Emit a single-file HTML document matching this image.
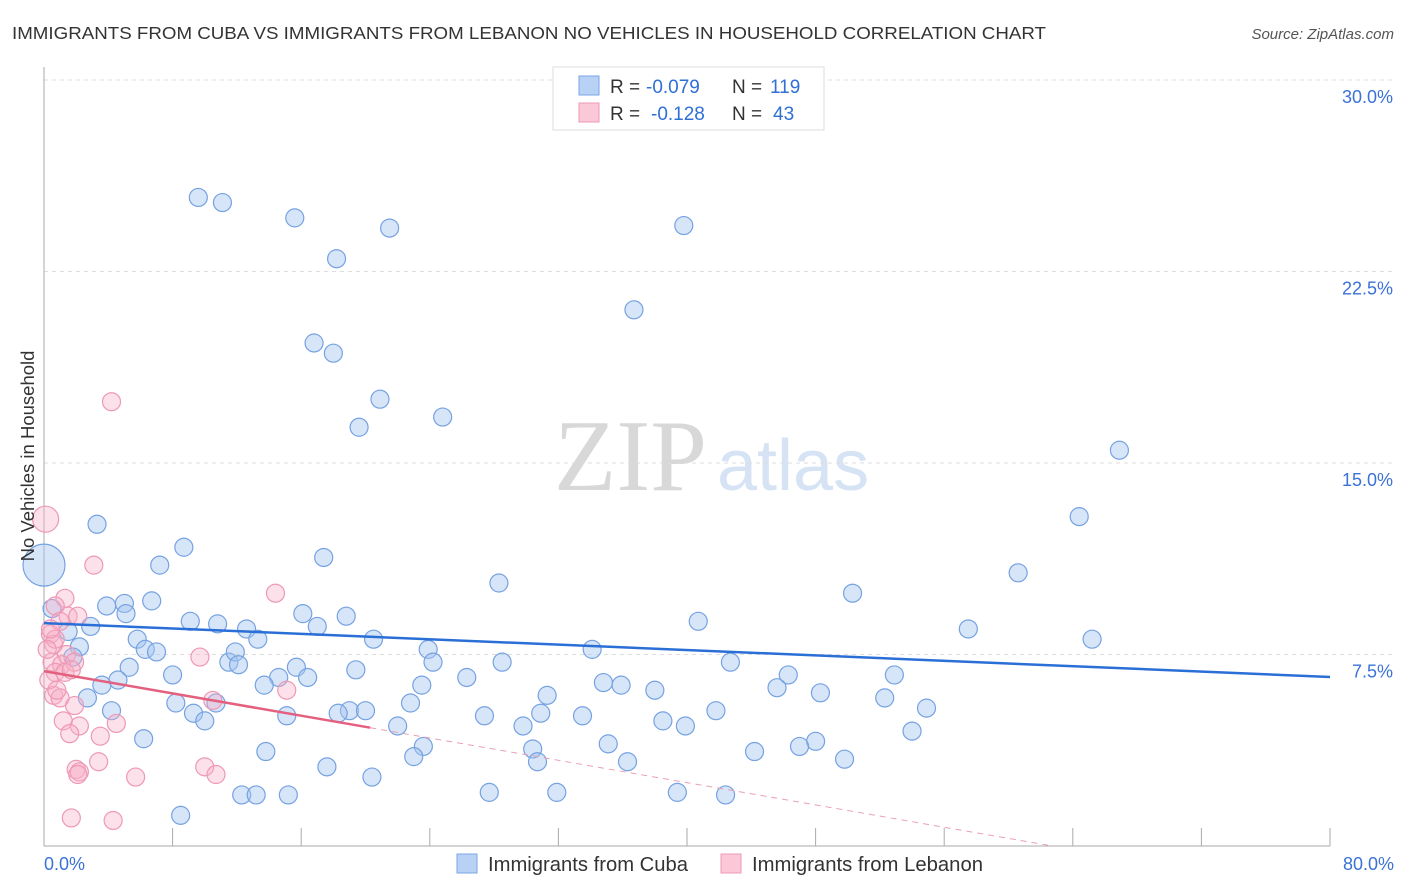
<!DOCTYPE html>
<html><head><meta charset="utf-8"><style>
body{margin:0;background:#fff;font-family:"Liberation Sans",sans-serif;}
#wrap{position:relative;width:1406px;height:892px;overflow:hidden;}
</style></head><body>
<div id="wrap">
<svg id="chart" width="1406" height="892" xmlns="http://www.w3.org/2000/svg">
<text x="12" y="39" font-size="17.5" fill="#333" textLength="1034" lengthAdjust="spacingAndGlyphs">IMMIGRANTS FROM CUBA VS IMMIGRANTS FROM LEBANON NO VEHICLES IN HOUSEHOLD CORRELATION CHART</text>
<text x="1394" y="39" font-size="15" fill="#555" font-style="italic" text-anchor="end">Source: ZipAtlas.com</text>
<text x="554" y="490" font-size="102" fill="#d8d8d8" font-family="Liberation Serif,serif">ZIP</text>
<text x="717" y="490" font-size="72" fill="#d6e3f5">atlas</text>
<g id="grid"></g>
<g id="axes"></g>
<g id="blue"></g>
<g id="pink"></g>
<g id="trend"></g>
<text transform="translate(34,456) rotate(-90)" font-size="18.5" fill="#333" text-anchor="middle">No Vehicles in Household</text>
<g>
<rect x="553" y="67" width="271" height="63" fill="#fff" stroke="#ddd"/>
<rect x="579" y="76" width="20" height="19" fill="#b8d2f5" stroke="#7aa6e6"/>
<rect x="579" y="103" width="20" height="19" fill="#fbc8d8" stroke="#ee9ab5"/>
<text x="610" y="93" font-size="19" fill="#333">R = <tspan fill="#2f6fd6" x="646">-0.079</tspan><tspan x="732">N = </tspan><tspan fill="#2f6fd6" x="770">119</tspan></text>
<text x="610" y="120" font-size="19" fill="#333">R = <tspan fill="#2f6fd6" x="651">-0.128</tspan><tspan x="732">N = </tspan><tspan fill="#2f6fd6" x="773">43</tspan></text>
</g>
<g>
<rect x="457" y="854" width="20" height="19" fill="#b8d2f5" stroke="#7aa6e6"/>
<text x="488" y="871" font-size="20" fill="#333" textLength="200" lengthAdjust="spacingAndGlyphs">Immigrants from Cuba</text>
<rect x="721" y="854" width="20" height="19" fill="#fbc8d8" stroke="#ee9ab5"/>
<text x="752" y="871" font-size="20" fill="#333" textLength="231" lengthAdjust="spacingAndGlyphs">Immigrants from Lebanon</text>
</g>
</svg>
</div>
<script>
const yTicks=[7.5,15.0,22.5,30.0];
const yTickLabels=["7.5%","15.0%","22.5%","30.0%"];
const xEndLabels=["0.0%","80.0%"];
const cubaX=[9.6,11.1,15.6,21.5,18.2,39.8,36.7,16.8,18.0,20.9,24.8,19.6,66.9,64.4,3.3,8.7,17.4,7.2,60.6,28.3,50.3,0.5,3.9,5.0,6.7,5.1,9.1,10.8,16.1,18.8,17.0,12.6,13.3,2.9,1.5,2.2,5.8,6.3,7.0,40.7,57.5,65.2,20.5,23.9,34.1,42.7,1.8,5.3,11.5,11.9,12.1,15.7,19.4,24.2,28.5,46.3,52.9,4.6,8.0,14.6,16.4,26.3,34.8,35.9,23.5,13.7,38.0,45.6,3.6,2.7,31.3,48.3,8.2,10.7,52.3,22.8,19.0,18.3,20.0,30.9,41.8,54.9,9.3,4.2,10.0,15.1,27.4,33.5,38.5,22.0,29.8,39.9,54.0,6.2,13.8,23.6,35.1,44.2,30.4,48.0,47.0,23.0,49.8,30.7,36.3,17.6,20.4,27.7,31.9,39.4,42.4,12.3,13.2,15.2,8.5,0.0];
const cubaY=[25.4,25.2,24.6,24.2,23.0,24.3,21.0,19.7,19.3,17.5,16.8,16.4,15.5,12.9,12.6,11.7,11.3,11.0,10.7,10.3,9.9,9.3,9.4,9.5,9.6,9.1,8.8,8.7,9.1,9.0,8.6,8.5,8.1,8.6,8.4,7.8,8.1,7.7,7.6,8.8,8.5,8.1,8.1,7.7,7.7,7.2,7.4,7.0,7.2,7.6,7.1,7.0,6.9,7.2,7.2,6.7,6.7,6.5,6.7,6.6,6.6,6.6,6.4,6.3,6.3,6.3,6.1,6.2,6.3,5.8,5.9,6.0,5.6,5.6,5.8,5.6,5.3,5.2,5.3,5.2,5.3,5.4,5.2,5.3,4.9,5.1,5.1,5.1,4.9,4.7,4.7,4.7,4.5,4.2,3.7,3.9,4.0,3.7,3.8,4.1,3.9,3.5,3.4,3.3,3.3,3.1,2.7,2.1,2.1,2.1,2.0,2.0,2.0,2.0,1.2,11.0];
const cubaSize=[];cubaX.forEach((v,i)=>cubaSize.push(i===cubaX.length-1?21:9));
const lebX=[4.2,0.1,3.1,14.4,1.3,0.7,1.5,0.4,1.0,2.1,0.6,1.4,0.5,1.1,1.9,9.7,0.7,1.3,1.7,0.6,1.0,15.1,10.5,1.9,1.2,2.2,1.6,3.5,4.5,3.4,2.0,2.2,2.1,5.7,10.0,10.7,1.7,4.3,0.3,0.8,0.7,0.2,0.4];
const lebY=[17.4,12.8,11.0,9.9,9.7,9.4,9.0,8.3,8.8,9.0,7.9,7.5,7.2,7.1,7.2,7.4,6.8,6.8,6.9,5.9,5.8,6.1,5.7,5.5,4.9,4.7,4.4,4.3,4.8,3.3,3.0,2.9,2.8,2.7,3.1,2.8,1.1,1.0,6.5,6.1,8.1,7.7,8.5];
const cubaTrend=[8.73,6.62];
const lebTrend=[6.85,-0.1092];
const X0=44,X1=1330,Y0=846,PXPER=191.5/7.5;
const sx=v=>X0+(v/80)*(X1-X0);
const sy=v=>Y0-v*PXPER;
const NS="http://www.w3.org/2000/svg";
function mk(tag,attrs,parent){const e=document.createElementNS(NS,tag);for(const k in attrs)e.setAttribute(k,attrs[k]);parent.appendChild(e);return e;}
const grid=document.getElementById('grid'),axes=document.getElementById('axes');
yTicks.forEach((t,i)=>{
  const l=mk('line',{x1:X0,x2:1394,y1:sy(t),y2:sy(t),stroke:'#ddd','stroke-dasharray':'4,4'},grid);
  
  
  const tx=mk('text',{x:1393,y:sy(t)+23,'font-size':18,fill:'#3b72d6','text-anchor':'end'},axes);
  tx.textContent=yTickLabels[i];
  
  
});
let a=mk('line',{x1:X0,x2:X0,y1:67,y2:Y0,stroke:'#aaa'},axes);


a=mk('line',{x1:X0,x2:X1,y1:Y0,y2:Y0,stroke:'#aaa'},axes);


for(let v=8;v<=80;v+=8){
  const tk=mk('line',{x1:sx(v),x2:sx(v),y1:Y0-18,y2:Y0,stroke:'#aaa'},axes);
  
  
}
let xl=mk('text',{x:44,y:870,'font-size':18,fill:'#3b72d6'},axes);xl.textContent=xEndLabels[0];


xl=mk('text',{x:1394,y:870,'font-size':18,fill:'#3b72d6','text-anchor':'end'},axes);xl.textContent=xEndLabels[1];


const bg=document.getElementById('blue');
cubaX.forEach((v,i)=>{
  const c=mk('circle',{cx:sx(v),cy:sy(cubaY[i]),r:cubaSize[i],fill:'rgba(165,198,240,0.45)',stroke:'#76a2e2','stroke-width':1.2},bg);
  
  
});
const pg=document.getElementById('pink');
lebX.forEach((v,i)=>{
  const c=mk('circle',{cx:sx(v),cy:sy(lebY[i]),r:i===1?13:9,fill:'rgba(248,175,200,0.38)',stroke:'#ee98b4','stroke-width':1.2},pg);
  
  
});
const tg=document.getElementById('trend');
let t=mk('line',{x1:sx(0),y1:sy(cubaTrend[0]),x2:sx(80),y2:sy(cubaTrend[1]),stroke:'#2a6fd6','stroke-width':2.5},tg);


const lf=x=>lebTrend[0]+lebTrend[1]*x;
t=mk('line',{x1:sx(0),y1:sy(lf(0)),x2:sx(20.3),y2:sy(lf(20.3)),stroke:'#e4607f','stroke-width':2.5},tg);


t=mk('line',{x1:sx(20.3),y1:sy(lf(20.3)),x2:sx(62.7),y2:sy(lf(62.7)),stroke:'#eaa0b4','stroke-width':1,'stroke-dasharray':'6,5'},tg);


</script>
</body></html>
